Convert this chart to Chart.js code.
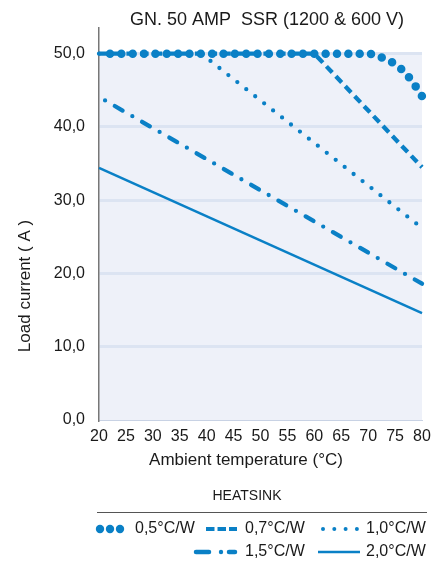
<!DOCTYPE html>
<html><head><meta charset="utf-8">
<script src="https://cdn.jsdelivr.net/npm/chart.js@4"></script>
<style>html,body{margin:0;padding:0;background:#fff}#wrap{width:444px;height:564px;position:relative}</style>
</head><body><div id="wrap"><canvas id="c" width="444" height="564"></canvas></div>
<script>
const chartTitle = 'GN. 50 AMP  SSR (1200 & 600 V)';
const xTitle = 'Ambient temperature (°C)';
const yTitle = 'Load current ( A )';
const legendTitle = 'HEATSINK';
const xTicks = [20,25,30,35,40,45,50,55,60,65,70,75,80];
const yTicks = [0,10,20,30,40,50];
const seriesNames = ['0,5°C/W','0,7°C/W','1,0°C/W','1,5°C/W','2,0°C/W'];

const temp05 = [20,70,72,74,76,78,80];
const load05 = [50,50,49.6,49,48,46.4,44.2];
const temp07 = [20,60,80];
const load07 = [50,50,34.5];
const temp10 = [20,39,80];
const load10 = [50,50,26.2];
const temp15 = [20,80];
const load15 = [44.1,18.6];
const temp20 = [20,80];
const load20 = [34.4,14.6];

const BLUE = '#0a80c6';
const TXT = '#1a1a1a';
const FONT = '"Liberation Sans", Arial, sans-serif';

function pts(xs, ys){ return xs.map((x,i)=>({x:x, y:ys[i]})); }

const bgPlugin = {
  id:'bg',
  beforeDraw(chart){
    const {ctx, scales:{x,y}} = chart;
    ctx.save();
    ctx.fillStyle = '#eef1f9';
    const l = x.getPixelForValue(20), r = x.getPixelForValue(80);
    const t = y.getPixelForValue(50), b = y.getPixelForValue(0);
    ctx.fillRect(l, t, r-l, b-t);
    ctx.restore();
  }
};

function sample(ctx, kind, x0, x1, yy){
  ctx.save();
  ctx.strokeStyle = BLUE; ctx.fillStyle = BLUE;
  if (kind === 0){
    for (let cx = x0+4; cx <= x1-3; cx += 10){ ctx.beginPath(); ctx.arc(cx, yy, 4.2, 0, Math.PI*2); ctx.fill(); }
  } else if (kind === 1){
    ctx.lineWidth = 4; ctx.lineCap = 'butt';
    for (let s = x0; s < x1; s += 11.5){ ctx.beginPath(); ctx.moveTo(s, yy); ctx.lineTo(Math.min(s+8.5, x1), yy); ctx.stroke(); }
  } else if (kind === 2){
    for (let cx = x0+2; cx <= x1; cx += 11.3){ ctx.beginPath(); ctx.arc(cx, yy, 2, 0, Math.PI*2); ctx.fill(); }
  } else if (kind === 3){
    ctx.lineWidth = 4.5; ctx.lineCap = 'round';
    ctx.beginPath(); ctx.moveTo(x0+2, yy); ctx.lineTo(x0+15, yy); ctx.stroke();
    ctx.beginPath(); ctx.arc(x0+27, yy, 2.2, 0, Math.PI*2); ctx.fill();
    ctx.beginPath(); ctx.moveTo(x0+35, yy); ctx.lineTo(x1-2, yy); ctx.stroke();
  } else {
    ctx.lineWidth = 2.5;
    ctx.beginPath(); ctx.moveTo(x0, yy); ctx.lineTo(x1, yy); ctx.stroke();
  }
  ctx.restore();
}

const textPlugin = {
  id:'texts',
  afterDraw(chart){
    const ctx = chart.ctx;
    ctx.save();
    ctx.fillStyle = TXT;
    ctx.textBaseline = 'middle';
    ctx.textAlign = 'center';
    ctx.font = '18px ' + FONT;
    ctx.fillText(chartTitle, 267, 20);
    ctx.font = '17px ' + FONT;
    ctx.fillText(xTitle, 246, 460);
    ctx.save();
    ctx.translate(25, 286);
    ctx.rotate(-Math.PI/2);
    ctx.fillText(yTitle, 0, 0);
    ctx.restore();
    // legend
    ctx.font = '14px ' + FONT;
    ctx.fillText(legendTitle, 247, 496);
    ctx.strokeStyle = '#555'; ctx.lineWidth = 1;
    ctx.beginPath(); ctx.moveTo(97, 512.5); ctx.lineTo(427, 512.5); ctx.stroke();
    ctx.font = '16px ' + FONT;
    ctx.textAlign = 'left';
    const items = [
      {k:0, s0:96,  s1:124, tx:135, y:529},
      {k:1, s0:206, s1:237, tx:245, y:529},
      {k:2, s0:321, s1:358, tx:366, y:529},
      {k:3, s0:194, s1:237, tx:245, y:552},
      {k:4, s0:318, s1:360, tx:366, y:552}
    ];
    items.forEach(it => {
      sample(ctx, it.k, it.s0, it.s1, it.y);
      ctx.fillStyle = TXT;
      ctx.fillText(seriesNames[it.k], it.tx, it.y);
    });
    ctx.restore();
  }
};

const base = {borderColor: BLUE, backgroundColor: BLUE, pointRadius: 0, fill: false, clip: false, tension: 0};

new Chart(document.getElementById('c'), {
  type: 'line',
  data: {
    datasets: [
      Object.assign({}, base, {label: seriesNames[0], data: pts(temp05, load05), borderWidth: 8.5, borderDash: [0, 11.35], borderDashOffset: 0.35, borderCapStyle: 'round', cubicInterpolationMode: 'monotone'}),
      Object.assign({}, base, {label: seriesNames[1], data: pts(temp07, load07), borderWidth: 4.3, borderDash: [8.5, 5.2], borderCapStyle: 'butt'}),
      Object.assign({}, base, {label: seriesNames[2], data: pts(temp10, load10), borderWidth: 4.3, borderDash: [0, 11.4], borderCapStyle: 'round'}),
      Object.assign({}, base, {label: seriesNames[3], data: pts(temp15, load15), borderWidth: 4.3, borderDash: [9, 11.25, 0, 11.25], borderDashOffset: 13.25, borderCapStyle: 'round'}),
      Object.assign({}, base, {label: seriesNames[4], data: pts(temp20, load20), borderWidth: 2.5})
    ]
  },
  options: {
    responsive: false,
    animation: false,
    events: [],
    layout: {padding: {left: 0, right: 22, top: 28, bottom: 0}},
    plugins: {legend: {display: false}, title: {display: false}, tooltip: {enabled: false}},
    scales: {
      x: {
        type: 'linear', min: 20, max: 80,
        afterBuildTicks: s => { s.ticks = xTicks.map(v => ({value: v})); },
        afterFit: s => { s.height = 144; },
        grid: {display: false, drawTicks: false},
        border: {display: true, color: '#c8d2e4', width: 1},
        ticks: {padding: 7, autoSkip: false, maxRotation: 0, color: TXT, font: {size: 16, family: FONT}}
      },
      y: {
        type: 'linear', min: 0, max: 53.5,
        afterBuildTicks: s => { s.ticks = yTicks.map(v => ({value: v})); },
        afterFit: s => { s.width = 99; },
        grid: {drawTicks: false, lineWidth: 3, color: c => (c.tick && c.tick.value === 0) ? 'rgba(0,0,0,0)' : '#dce4f2'},
        border: {display: true, color: '#777', width: 1.5},
        ticks: {padding: 14, color: TXT, font: {size: 16, family: FONT}, callback: v => Number(v).toFixed(1).replace('.', ',')}
      }
    }
  },
  plugins: [bgPlugin, textPlugin]
});
</script>
</body></html>
